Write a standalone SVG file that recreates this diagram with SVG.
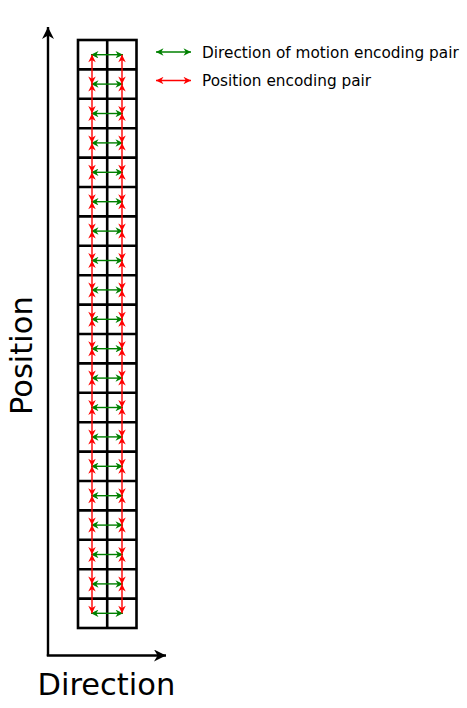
<svg xmlns="http://www.w3.org/2000/svg" width="467" height="708" viewBox="0 0 467 708">
<style>
.grid{fill:none;stroke:#000;stroke-width:2.6}
.g{stroke:#008000;stroke-width:1.4;fill:none;marker-start:url(#ag);marker-end:url(#ag)}
.r{stroke:#ff0000;stroke-width:1.4;fill:none;marker-start:url(#ar);marker-end:url(#ar)}
.axis{stroke:#000;stroke-width:2.4;fill:none;marker-end:url(#ak)}
text{font-family:"DejaVu Sans",sans-serif;fill:#000}
.leg{font-size:15.3px}
.big{font-size:30.5px}
</style>
<defs>
<marker id="ag" viewBox="0 0 10 10" refX="10" refY="5" markerUnits="userSpaceOnUse" markerWidth="10" markerHeight="7.5" orient="auto-start-reverse"><path d="M0,0 L10,5 L0,10 L3,5 z" fill="#008000"/></marker>
<marker id="ar" viewBox="0 0 10 10" refX="10" refY="5" markerUnits="userSpaceOnUse" markerWidth="10" markerHeight="7.5" orient="auto-start-reverse"><path d="M0,0 L10,5 L0,10 L3,5 z" fill="#ff0000"/></marker>
<marker id="ak" viewBox="0 0 10 10" refX="10" refY="5" markerUnits="userSpaceOnUse" markerWidth="20" markerHeight="12" orient="auto"><path d="M0,0 L10,5 L0,10 L3,5 z" fill="#000"/></marker>
</defs>
<g id="grid">
<rect class="grid" x="78" y="40" width="58.5" height="588"/>
<path class="grid" d="M107.2,40V628 M78,69.4H136.5 M78,98.8H136.5 M78,128.2H136.5 M78,157.6H136.5 M78,187H136.5 M78,216.4H136.5 M78,245.8H136.5 M78,275.2H136.5 M78,304.6H136.5 M78,334H136.5 M78,363.4H136.5 M78,392.8H136.5 M78,422.2H136.5 M78,451.6H136.5 M78,481H136.5 M78,510.4H136.5 M78,539.8H136.5 M78,569.2H136.5 M78,598.6H136.5"/>
</g>
<g id="connectors">
<g id="direction-pairs">
<line class="g" x1="91" y1="54.7" x2="123" y2="54.7"/>
<line class="g" x1="91" y1="84.1" x2="123" y2="84.1"/>
<line class="g" x1="91" y1="113.5" x2="123" y2="113.5"/>
<line class="g" x1="91" y1="142.9" x2="123" y2="142.9"/>
<line class="g" x1="91" y1="172.3" x2="123" y2="172.3"/>
<line class="g" x1="91" y1="201.7" x2="123" y2="201.7"/>
<line class="g" x1="91" y1="231.1" x2="123" y2="231.1"/>
<line class="g" x1="91" y1="260.5" x2="123" y2="260.5"/>
<line class="g" x1="91" y1="289.9" x2="123" y2="289.9"/>
<line class="g" x1="91" y1="319.3" x2="123" y2="319.3"/>
<line class="g" x1="91" y1="348.7" x2="123" y2="348.7"/>
<line class="g" x1="91" y1="378.1" x2="123" y2="378.1"/>
<line class="g" x1="91" y1="407.5" x2="123" y2="407.5"/>
<line class="g" x1="91" y1="436.9" x2="123" y2="436.9"/>
<line class="g" x1="91" y1="466.3" x2="123" y2="466.3"/>
<line class="g" x1="91" y1="495.7" x2="123" y2="495.7"/>
<line class="g" x1="91" y1="525.1" x2="123" y2="525.1"/>
<line class="g" x1="91" y1="554.5" x2="123" y2="554.5"/>
<line class="g" x1="91" y1="583.9" x2="123" y2="583.9"/>
<line class="g" x1="91" y1="613.3" x2="123" y2="613.3"/>
</g>
<g id="position-pairs">
<path class="r" d="M92,54.7V84.1"/><path class="r" d="M92,84.1V113.5"/><path class="r" d="M92,113.5V142.9"/><path class="r" d="M92,142.9V172.3"/><path class="r" d="M92,172.3V201.7"/><path class="r" d="M92,201.7V231.1"/><path class="r" d="M92,231.1V260.5"/><path class="r" d="M92,260.5V289.9"/><path class="r" d="M92,289.9V319.3"/><path class="r" d="M92,319.3V348.7"/><path class="r" d="M92,348.7V378.1"/><path class="r" d="M92,378.1V407.5"/><path class="r" d="M92,407.5V436.9"/><path class="r" d="M92,436.9V466.3"/><path class="r" d="M92,466.3V495.7"/><path class="r" d="M92,495.7V525.1"/><path class="r" d="M92,525.1V554.5"/><path class="r" d="M92,554.5V583.9"/><path class="r" d="M92,583.9V613.3"/>
<path class="r" d="M122,54.7V84.1"/><path class="r" d="M122,84.1V113.5"/><path class="r" d="M122,113.5V142.9"/><path class="r" d="M122,142.9V172.3"/><path class="r" d="M122,172.3V201.7"/><path class="r" d="M122,201.7V231.1"/><path class="r" d="M122,231.1V260.5"/><path class="r" d="M122,260.5V289.9"/><path class="r" d="M122,289.9V319.3"/><path class="r" d="M122,319.3V348.7"/><path class="r" d="M122,348.7V378.1"/><path class="r" d="M122,378.1V407.5"/><path class="r" d="M122,407.5V436.9"/><path class="r" d="M122,436.9V466.3"/><path class="r" d="M122,466.3V495.7"/><path class="r" d="M122,495.7V525.1"/><path class="r" d="M122,525.1V554.5"/><path class="r" d="M122,554.5V583.9"/><path class="r" d="M122,583.9V613.3"/>
</g>
<g id="axes">
<path class="axis" d="M48,656V27"/>
<path class="axis" d="M46.8,655.5H166"/>
</g>
</g>
<g id="legend">
<line class="g" x1="156" y1="52" x2="191" y2="52"/>
<text class="leg" x="202" y="57.5">Direction of motion encoding pair</text>
<line class="r" x1="156" y1="80.5" x2="191" y2="80.5"/>
<text class="leg" x="202" y="85.5">Position encoding pair</text>
</g>
<g id="labels">
<text class="big" x="37.5" y="695">Direction</text>
<text class="big" transform="translate(32,415) rotate(-90)" x="0" y="0">Position</text>
</g>
</svg>
